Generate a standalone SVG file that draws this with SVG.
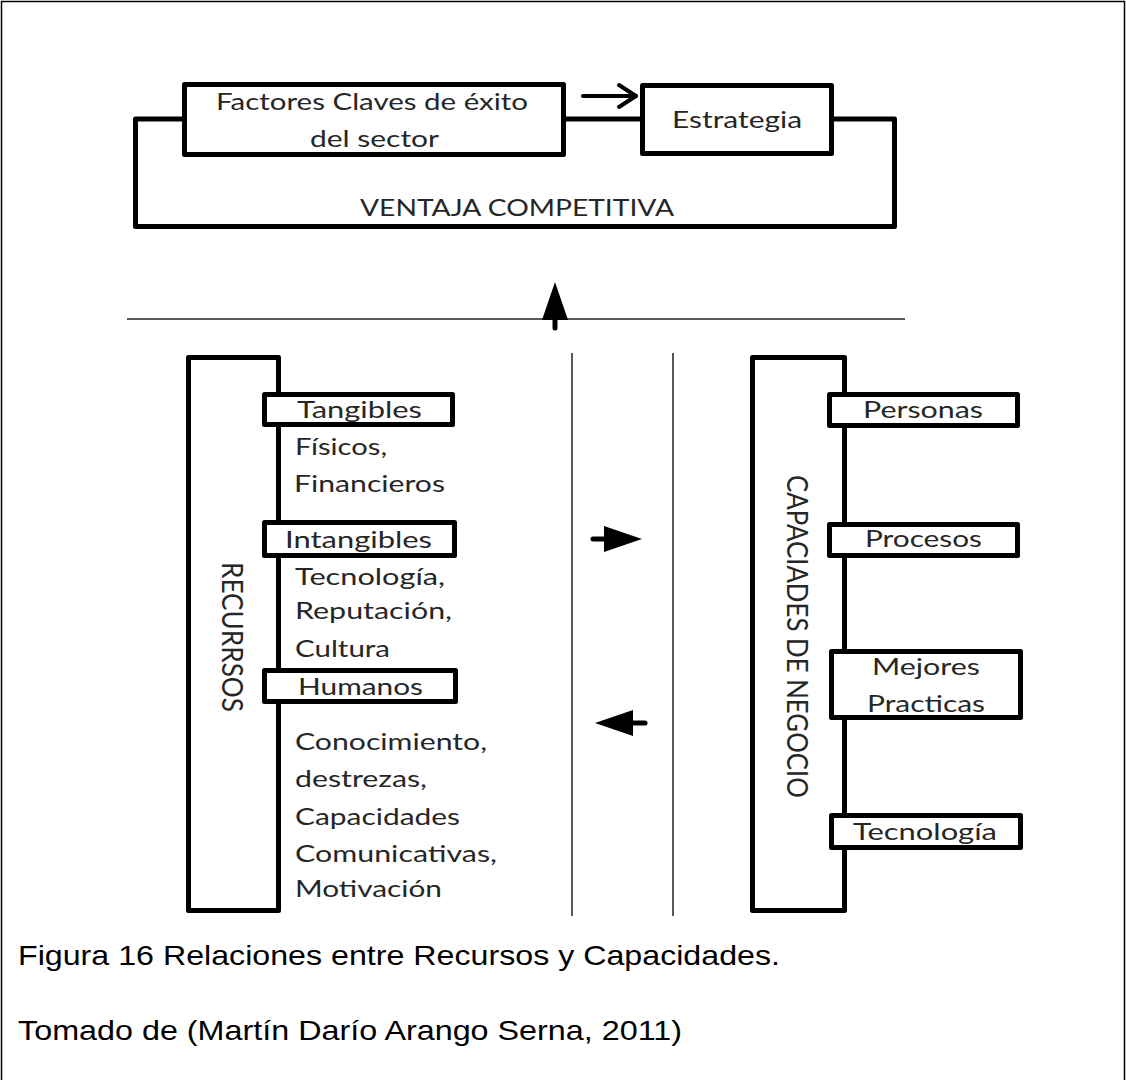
<svg xmlns="http://www.w3.org/2000/svg" width="1126" height="1080" viewBox="0 0 1126 1080">
  <style>
    .box { fill: #ffffff; stroke: #000000; stroke-width: 5; stroke-linejoin: round; }
    .wire { fill: none; stroke: #000000; stroke-width: 5; stroke-linejoin: round; }
    .thin { fill: none; stroke: #222222; stroke-width: 1.5; }
    .t { font-family: Lato, "Open Sans", sans-serif; font-size: 24px; fill: #262626; }
    .cap { font-family: "Liberation Sans", Arial, sans-serif; font-size: 28px; fill: #000000; }
  </style>
  <defs>
    <marker id="tri" markerUnits="userSpaceOnUse" markerWidth="40" markerHeight="28" viewBox="0 -14 40 28" refX="18" refY="0" orient="auto">
      <path d="M0,-13 L38,0 L0,13 Z" fill="#000000"/>
    </marker>
    <marker id="chev" markerUnits="userSpaceOnUse" markerWidth="26" markerHeight="30" viewBox="-22 -15 26 30" refX="0" refY="0" orient="auto">
      <path d="M-17,-11 L0,0 L-17,11" fill="none" stroke="#000000" stroke-width="4" stroke-linecap="round" stroke-linejoin="round"/>
    </marker>
  </defs>

  <!-- page frame -->
  <path d="M1.5,1080 V1.5 H1124.5 V1080" fill="none" stroke="#000000" stroke-width="1.5"/>

  <!-- connectors -->
  <g id="connectors">
    <!-- competitive advantage loop -->
    <path class="wire" d="M184.5,119 H135.5 V226.5 H894.5 V119 H831.5"/>
    <path class="wire" d="M566,119 H642"/>
    <path d="M583,96 H636" fill="none" stroke="#000000" stroke-width="4" stroke-linecap="round" marker-end="url(#chev)"/>
    <!-- separators -->
    <line class="thin" x1="127" y1="319" x2="905" y2="319"/>
    <line class="thin" x1="572" y1="353" x2="572" y2="916"/>
    <line class="thin" x1="673" y1="353" x2="673" y2="916"/>
    <!-- flow arrows -->
    <line x1="555" y1="328" x2="555" y2="302" stroke="#000000" stroke-width="5" stroke-linecap="round" marker-end="url(#tri)"/>
    <line x1="593" y1="539" x2="622" y2="539" stroke="#000000" stroke-width="5" stroke-linecap="round" marker-end="url(#tri)"/>
    <line x1="645" y1="723" x2="615" y2="723" stroke="#000000" stroke-width="5" stroke-linecap="round" marker-end="url(#tri)"/>
  </g>

  <!-- top row -->
  <g id="factores">
    <rect class="box" x="184.5" y="84.5" width="379" height="70"/>
    <text class="t" x="216" y="110" textLength="312" lengthAdjust="spacingAndGlyphs">Factores Claves de éxito</text>
    <text class="t" x="310" y="147" textLength="129" lengthAdjust="spacingAndGlyphs">del sector</text>
  </g>
  <g id="estrategia">
    <rect class="box" x="642.5" y="85.5" width="189" height="68"/>
    <text class="t" x="672" y="128" textLength="130" lengthAdjust="spacingAndGlyphs">Estrategia</text>
  </g>
  <g id="ventaja">
    <text class="t" x="360" y="216" textLength="314" lengthAdjust="spacingAndGlyphs">VENTAJA COMPETITIVA</text>
  </g>

  <!-- resources column -->
  <g id="recursos">
    <rect class="box" x="188.5" y="357.5" width="90" height="553"/>
    <text class="t" transform="translate(222,562) scale(1.2,1) rotate(90)" x="0" y="0" textLength="150" lengthAdjust="spacingAndGlyphs">RECURRSOS</text>
  </g>
  <g id="tangibles">
    <rect class="box" x="264.5" y="394.5" width="188" height="30"/>
    <text class="t" x="297" y="418" textLength="125" lengthAdjust="spacingAndGlyphs">Tangibles</text>
    <text class="t" x="295" y="455" textLength="92" lengthAdjust="spacingAndGlyphs">Físicos,</text>
    <text class="t" x="294" y="492" textLength="151" lengthAdjust="spacingAndGlyphs">Financieros</text>
  </g>
  <g id="intangibles">
    <rect class="box" x="264.5" y="522.5" width="190" height="33"/>
    <text class="t" x="285" y="548" textLength="147" lengthAdjust="spacingAndGlyphs">Intangibles</text>
    <text class="t" x="295" y="585" textLength="150" lengthAdjust="spacingAndGlyphs">Tecnología,</text>
    <text class="t" x="295" y="619" textLength="157" lengthAdjust="spacingAndGlyphs">Reputación,</text>
    <text class="t" x="295" y="657" textLength="95" lengthAdjust="spacingAndGlyphs">Cultura</text>
  </g>
  <g id="humanos">
    <rect class="box" x="264.5" y="670.5" width="191" height="31"/>
    <text class="t" x="298" y="695" textLength="125" lengthAdjust="spacingAndGlyphs">Humanos</text>
    <text class="t" x="295" y="750" textLength="192" lengthAdjust="spacingAndGlyphs">Conocimiento,</text>
    <text class="t" x="295" y="787" textLength="132" lengthAdjust="spacingAndGlyphs">destrezas,</text>
    <text class="t" x="295" y="825" textLength="165" lengthAdjust="spacingAndGlyphs">Capacidades</text>
    <text class="t" x="295" y="862" textLength="202" lengthAdjust="spacingAndGlyphs">Comunicativas,</text>
    <text class="t" x="295" y="897" textLength="147" lengthAdjust="spacingAndGlyphs">Motivación</text>
  </g>

  <!-- capabilities column -->
  <g id="capacidades">
    <rect class="box" x="752.5" y="357.5" width="92" height="553"/>
    <text class="t" transform="translate(787,475) scale(1.2,1) rotate(90)" x="0" y="0" textLength="323" lengthAdjust="spacingAndGlyphs">CAPACIADES DE NEGOCIO</text>
  </g>
  <g id="personas">
    <rect class="box" x="829.5" y="394.5" width="188" height="31"/>
    <text class="t" x="863" y="418" textLength="120" lengthAdjust="spacingAndGlyphs">Personas</text>
  </g>
  <g id="procesos">
    <rect class="box" x="829.5" y="524.5" width="188" height="31"/>
    <text class="t" x="865" y="547" textLength="117" lengthAdjust="spacingAndGlyphs">Procesos</text>
  </g>
  <g id="mejores">
    <rect class="box" x="831.5" y="651.5" width="189" height="66"/>
    <text class="t" x="872" y="675" textLength="108" lengthAdjust="spacingAndGlyphs">Mejores</text>
    <text class="t" x="867" y="712" textLength="118" lengthAdjust="spacingAndGlyphs">Practicas</text>
  </g>
  <g id="tecnologia">
    <rect class="box" x="831.5" y="815.5" width="189" height="32"/>
    <text class="t" x="853" y="840" textLength="144" lengthAdjust="spacingAndGlyphs">Tecnología</text>
  </g>

  <!-- caption -->
  <g id="caption">
    <text class="cap" x="18" y="965" textLength="762" lengthAdjust="spacingAndGlyphs">Figura 16 Relaciones entre Recursos y Capacidades.</text>
    <text class="cap" x="18" y="1040" textLength="664" lengthAdjust="spacingAndGlyphs">Tomado de (Martín Darío Arango Serna, 2011)</text>
  </g>
</svg>
